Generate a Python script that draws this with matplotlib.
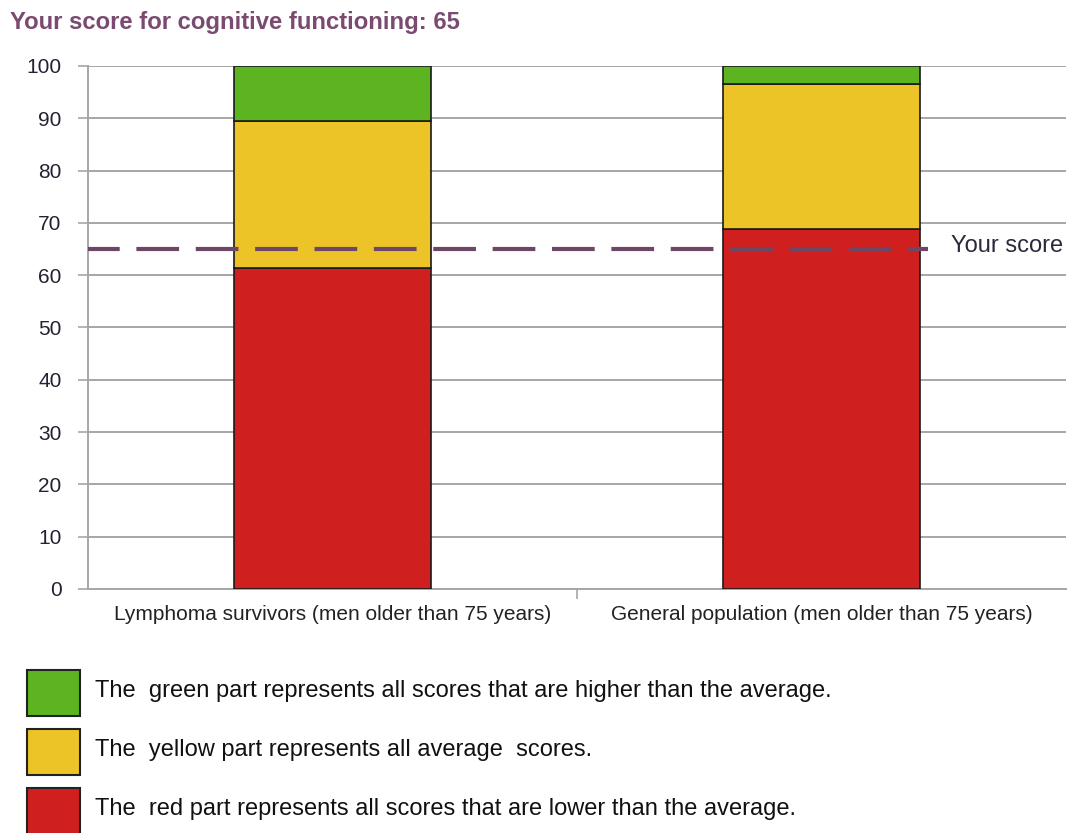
import matplotlib
matplotlib.use("Agg")
import matplotlib.pyplot as plt
from matplotlib.patches import Rectangle

plt.rcParams['font.family'] = ['Liberation Sans', 'DejaVu Sans']

categories = ["Lymphoma survivors (men older than 75 years)",
              "General population (men older than 75 years)"]
red_vals = [61.4, 68.8]
yellow_vals = [28.0, 27.8]
green_vals = [10.6, 3.4]
your_score = 65
yticks = [0, 10, 20, 30, 40, 50, 60, 70, 80, 90, 100]
legend_texts = ["The  green part represents all scores that are higher than the average.",
                "The  yellow part represents all average  scores.",
                "The  red part represents all scores that are lower than the average."]

c_green = "#5cb520"
c_yellow = "#ecc428"
c_red = "#d01f1f"
c_purple = "#6e4767"
c_grid = "#a6a6a6"

W, H = 1069, 833
fig = plt.figure(figsize=(W / 100, H / 100), dpi=100)
ax = fig.add_axes([88 / W, 1 - 589 / H, 978 / W, 523 / H])

x = list(range(len(categories)))
bw = 0.402
ax.bar(x, red_vals, width=bw, color=c_red, edgecolor="#1a1a1a", linewidth=1.2, zorder=3)
ax.bar(x, yellow_vals, width=bw, bottom=red_vals, color=c_yellow, edgecolor="#1a1a1a", linewidth=1.2, zorder=3)
bottoms2 = [r + y for r, y in zip(red_vals, yellow_vals)]
ax.bar(x, green_vals, width=bw, bottom=bottoms2, color=c_green, edgecolor="#1a1a1a", linewidth=1.2, zorder=3)

ax.set_xlim(-0.5, 1.5)
ax.set_ylim(0, 100)
ax.set_yticks(yticks)
ax.set_yticklabels([str(v) for v in yticks], fontsize=15, color="#222233")
ax.yaxis.grid(True, color=c_grid, linewidth=1.4, zorder=0)
ax.set_axisbelow(True)

ax.set_xticks([0.5])
ax.set_xticklabels([""])
ax.tick_params(axis='x', length=7, color=c_grid, width=1.2)
ax.tick_params(axis='y', length=7, color=c_grid, width=1.2, pad=12)
for s in ["top", "right"]:
    ax.spines[s].set_visible(False)
for s in ["left", "bottom"]:
    ax.spines[s].set_color(c_grid)
    ax.spines[s].set_linewidth(1.4)

for i, c in enumerate(categories):
    ax.text(i, -4.8, c, ha="center", va="center", fontsize=15, color="#222222")

ax.plot([-0.5, 1.218], [your_score, your_score], color=c_purple, linewidth=3.0,
        linestyle=(2.64, (10.25, 4.0)), zorder=4, clip_on=False,
        solid_capstyle='butt', dash_capstyle='butt')
ax.text(1.265, your_score + 0.5, "Your score", ha="left", va="center", fontsize=17,
        color="#2a2a3a")

fig.text(10 / W, 1 - 22 / H, f"Your score for cognitive functioning: {your_score}",
         ha="left", va="center", fontsize=17.2, fontweight="bold", color="#7a4a70")

leg_colors = [c_green, c_yellow, c_red]
leg_y = [670, 729, 788]
for col, yy, t in zip(leg_colors, leg_y, legend_texts):
    fig.add_artist(Rectangle((27 / W, 1 - (yy + 46) / H), 53 / W, 46 / H,
                             transform=fig.transFigure, facecolor=col,
                             edgecolor="#222222", linewidth=1.5))
    fig.text(95 / W, 1 - (yy + 21) / H, t, ha="left", va="center", fontsize=17,
             color="#111111")

fig.savefig("out.png", dpi=100)
